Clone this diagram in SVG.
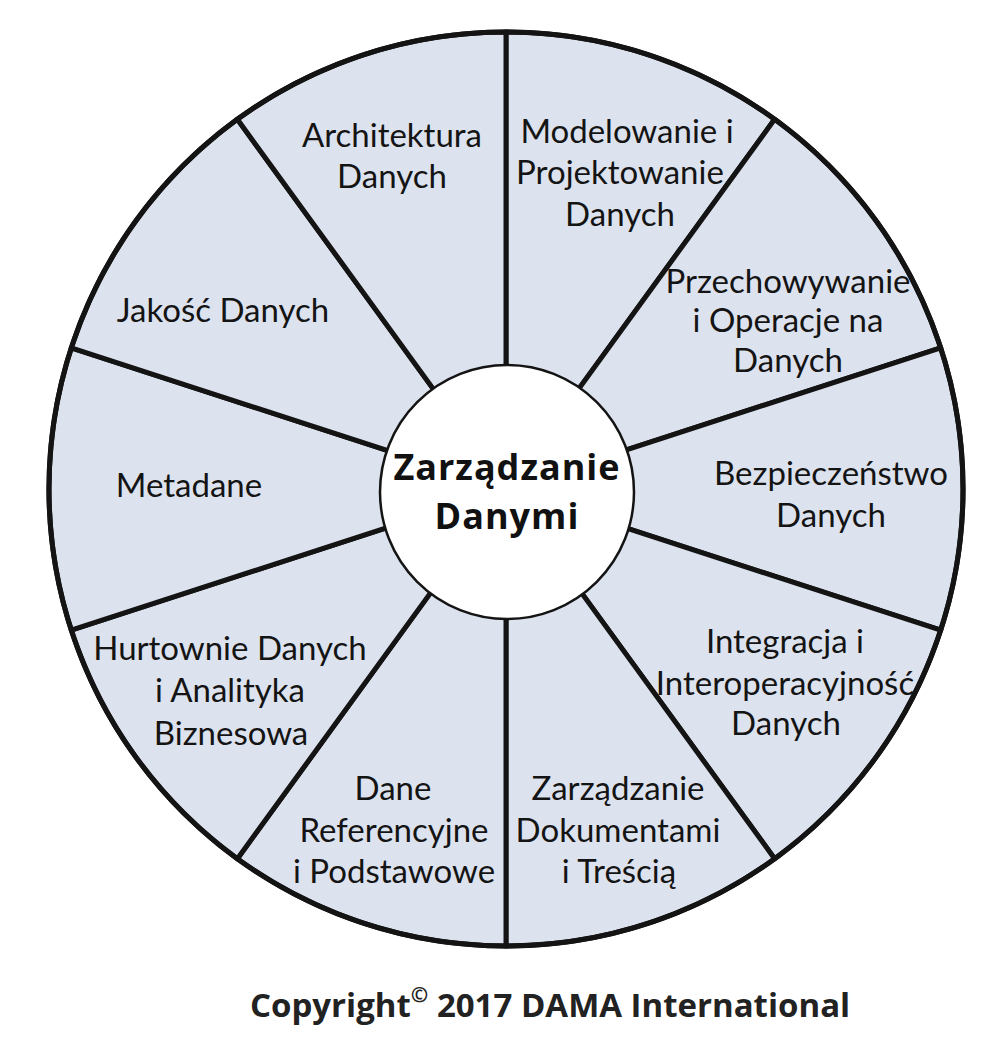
<svg xmlns="http://www.w3.org/2000/svg" width="1008" height="1056" viewBox="0 0 1008 1056">
<style>
.seg{fill:#dde3ee;stroke:#141414;stroke-width:5;stroke-linejoin:round}
.lbl{font-family:Lato,"Liberation Sans",sans-serif;font-size:33px;fill:#141414;text-anchor:middle}
.hub{fill:#ffffff;stroke:#141414;stroke-width:2.5}
.hubt{font-family:"Open Sans","Liberation Sans",sans-serif;font-size:36px;font-weight:bold;letter-spacing:1px;fill:#111;text-anchor:middle}
.copy{font-family:"Open Sans","Liberation Sans",sans-serif;font-size:33px;font-weight:bold;fill:#222}
</style>
<rect width="1008" height="1056" fill="#ffffff"/>
<g id="segments">
<g id="seg-modelowanie">
<path class="seg" d="M506,389 L506,32 A457,457 0 0 1 774.6,119.3 L564.8,408.1 A100,100 0 0 0 506,389 Z"/>
<text class="lbl"><tspan x="627" y="143">Modelowanie i</tspan><tspan x="620" y="184">Projektowanie</tspan><tspan x="620" y="226">Danych</tspan></text>
</g>
<g id="seg-przechowywanie">
<path class="seg" d="M564.8,408.1 L774.6,119.3 A457,457 0 0 1 940.7,347.8 L601.1,458.1 A100,100 0 0 0 564.8,408.1 Z"/>
<text class="lbl"><tspan x="788" y="293">Przechowywanie</tspan><tspan x="788" y="332">i Operacje na</tspan><tspan x="788" y="372">Danych</tspan></text>
</g>
<g id="seg-bezpieczenstwo">
<path class="seg" d="M601.1,458.1 L940.7,347.8 A457,457 0 0 1 940.7,630.2 L601.1,519.9 A100,100 0 0 0 601.1,458.1 Z"/>
<text class="lbl"><tspan x="831" y="485">Bezpieczeństwo</tspan><tspan x="831" y="527">Danych</tspan></text>
</g>
<g id="seg-integracja">
<path class="seg" d="M601.1,519.9 L940.7,630.2 A457,457 0 0 1 774.6,858.7 L564.8,569.9 A100,100 0 0 0 601.1,519.9 Z"/>
<text class="lbl"><tspan x="785" y="653">Integracja i</tspan><tspan x="785" y="695">Interoperacyjność</tspan><tspan x="786" y="735">Danych</tspan></text>
</g>
<g id="seg-dokumenty">
<path class="seg" d="M564.8,569.9 L774.6,858.7 A457,457 0 0 1 506,946 L506,589 A100,100 0 0 0 564.8,569.9 Z"/>
<text class="lbl"><tspan x="618" y="800">Zarządzanie</tspan><tspan x="618" y="842">Dokumentami</tspan><tspan x="619" y="883">i Treścią</tspan></text>
</g>
<g id="seg-referencyjne">
<path class="seg" d="M506,589 L506,946 A457,457 0 0 1 237.4,858.7 L447.2,569.9 A100,100 0 0 0 506,589 Z"/>
<text class="lbl"><tspan x="393" y="800">Dane</tspan><tspan x="394" y="842">Referencyjne</tspan><tspan x="394" y="883">i Podstawowe</tspan></text>
</g>
<g id="seg-hurtownie">
<path class="seg" d="M447.2,569.9 L237.4,858.7 A457,457 0 0 1 71.3,630.2 L410.9,519.9 A100,100 0 0 0 447.2,569.9 Z"/>
<text class="lbl"><tspan x="230" y="660">Hurtownie Danych</tspan><tspan x="230" y="702">i Analityka</tspan><tspan x="231" y="745">Biznesowa</tspan></text>
</g>
<g id="seg-metadane">
<path class="seg" d="M410.9,519.9 L71.3,630.2 A457,457 0 0 1 71.3,347.8 L410.9,458.1 A100,100 0 0 0 410.9,519.9 Z"/>
<text class="lbl"><tspan x="189" y="497">Metadane</tspan></text>
</g>
<g id="seg-jakosc">
<path class="seg" d="M410.9,458.1 L71.3,347.8 A457,457 0 0 1 237.4,119.3 L447.2,408.1 A100,100 0 0 0 410.9,458.1 Z"/>
<text class="lbl"><tspan x="223" y="322">Jakość Danych</tspan></text>
</g>
<g id="seg-architektura">
<path class="seg" d="M447.2,408.1 L237.4,119.3 A457,457 0 0 1 506,32 L506,389 A100,100 0 0 0 447.2,408.1 Z"/>
<text class="lbl"><tspan x="392" y="147">Architektura</tspan><tspan x="392" y="188">Danych</tspan></text>
</g>
</g>
<g id="connectors">
<circle cx="506" cy="489" r="457" fill="none" stroke="#141414" stroke-width="5"/>
</g>
<g id="hub">
<circle class="hub" cx="507" cy="492" r="127"/>
<text class="hubt"><tspan x="507" y="480">Zarządzanie</tspan><tspan x="507" y="529">Danymi</tspan></text>
</g>
<g id="copyright">
<text class="copy" x="250" y="1017">Copyright<tspan font-size="21" dy="-15">©</tspan><tspan dy="15"> 2017 DAMA International</tspan></text>
</g>
</svg>
